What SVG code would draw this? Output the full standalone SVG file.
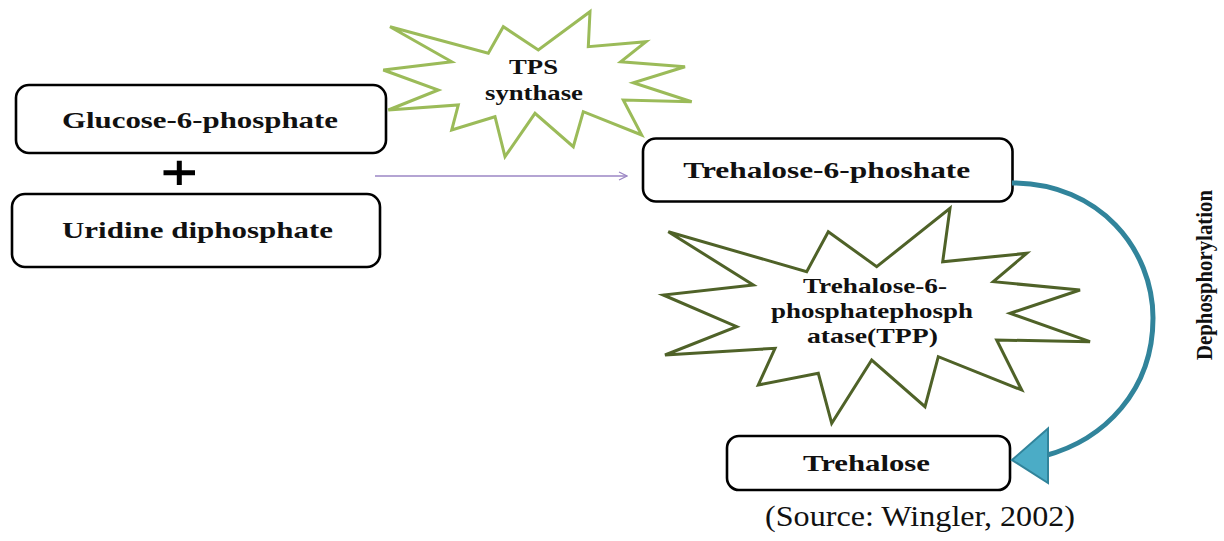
<svg xmlns="http://www.w3.org/2000/svg" width="1224" height="541" viewBox="0 0 1224 541">
  <defs>
    <style>
      .box { fill: #ffffff; stroke: #000000; stroke-width: 2.6; }
      .label { font-family: "Liberation Serif", "Times New Roman", serif; font-weight: bold; fill: #111111; }
      .star-light { fill: #ffffff; stroke: #9bbb59; stroke-width: 3; stroke-linejoin: miter; }
      .star-dark { fill: #ffffff; stroke: #4f6228; stroke-width: 3; stroke-linejoin: miter; }
    </style>
    <marker id="openArrow" viewBox="0 0 10 10" refX="9" refY="5" markerWidth="10" markerHeight="10" markerUnits="userSpaceOnUse" orient="auto">
      <path d="M1,1 L9,5 L1,9" fill="none" stroke="#9b86c4" stroke-width="1.2"/>
    </marker>
  </defs>
  <rect width="1224" height="541" fill="#ffffff"/>

  <!-- enzyme bursts -->
  <g id="tps-synthase">
    <polygon class="star-light" points="390,26.7 488.3,53.3 503.3,26.7 538.3,50 590,11.7 588.3,46.7 646,41.7 620.7,61.7 685,66.7 633.3,82.7 691.7,101.7 623.3,100 641.7,135 583.3,111.7 573.3,146.7 535,113.3 505,156.7 495,116.7 451.7,130 458.3,105 388.3,110 438.3,90 383.3,70 451.7,61.7"/>
    <text class="label" x="509" y="74" font-size="21" textLength="49" lengthAdjust="spacingAndGlyphs">TPS</text>
    <text class="label" x="485" y="100" font-size="21" textLength="98" lengthAdjust="spacingAndGlyphs">synthase</text>
  </g>

  <g id="tpp">
    <polygon class="star-dark" points="668.3,231.7 806.7,271.7 828.3,231.7 876.7,266.7 950,208.3 942.7,261.7 1026.7,253.3 993.3,281.7 1080,290 1010,313.3 1090,341.7 996.7,340 1021.7,390 938.3,356.7 925,406.7 871.7,360 831.7,423.3 818.3,373.3 758.3,385 775,348.3 665,355 736.7,326.7 663.3,295 753.3,285"/>
    <text class="label" x="803" y="292.7" font-size="21" textLength="144" lengthAdjust="spacingAndGlyphs">Trehalose-6-</text>
    <text class="label" x="771" y="318.3" font-size="21" textLength="202" lengthAdjust="spacingAndGlyphs">phosphatephosph</text>
    <text class="label" x="807" y="343.3" font-size="21" textLength="131" lengthAdjust="spacingAndGlyphs">atase(TPP)</text>
  </g>

  <!-- substrate and product boxes -->
  <g id="glucose-6-phosphate">
    <rect class="box" x="16" y="85" width="370" height="68" rx="13"/>
    <text class="label" x="62" y="128.3" font-size="23" textLength="276" lengthAdjust="spacingAndGlyphs">Glucose-6-phosphate</text>
  </g>

  <g id="plus">
    <path d="M163.5,172.7 H195 M179.3,160.7 V185" fill="none" stroke="#000000" stroke-width="5"/>
  </g>

  <g id="uridine-diphosphate">
    <rect class="box" x="12" y="194" width="368" height="73" rx="13"/>
    <text class="label" x="62" y="238.3" font-size="23" textLength="271" lengthAdjust="spacingAndGlyphs">Uridine diphosphate</text>
  </g>

  <g id="trehalose-6-phosphate">
    <rect class="box" x="643" y="138.5" width="369.5" height="63" rx="13"/>
    <text class="label" x="683.3" y="178.3" font-size="23" textLength="287" lengthAdjust="spacingAndGlyphs">Trehalose-6-phoshate</text>
  </g>

  <g id="trehalose">
    <rect class="box" x="727" y="436" width="283" height="54" rx="12"/>
    <text class="label" x="803" y="470.7" font-size="23" textLength="127" lengthAdjust="spacingAndGlyphs">Trehalose</text>
  </g>

  <!-- connectors -->
  <g id="connectors">
    <line x1="375" y1="176" x2="627" y2="176" stroke="#9b86c4" stroke-width="1.3" marker-end="url(#openArrow)"/>
    <path d="M1012,183 C1100,183 1153,250 1153,318 C1153,390 1105,440 1044,456" fill="none" stroke="#31849b" stroke-width="5"/>
    <polygon points="1012,460 1048,428.5 1048,483" fill="#4bacc6" stroke="#31849b" stroke-width="2" stroke-linejoin="miter"/>
  </g>

  <text class="label" transform="translate(1212,360) rotate(-90)" x="0" y="0" font-size="23" textLength="170" lengthAdjust="spacingAndGlyphs">Dephosphorylation</text>

  <text x="765" y="526" font-family="'Liberation Serif', 'Times New Roman', serif" font-size="29" fill="#111111" textLength="310" lengthAdjust="spacingAndGlyphs">(Source: Wingler, 2002)</text>
</svg>
